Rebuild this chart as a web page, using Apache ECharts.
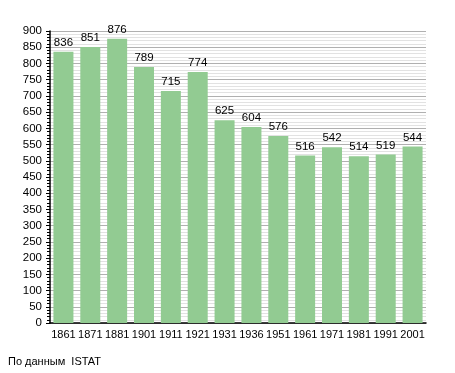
<!DOCTYPE html>
<html><head><meta charset="utf-8">
<script src="https://cdn.jsdelivr.net/npm/echarts@6/dist/echarts.min.js"></script>
<style>html,body{margin:0;padding:0;background:#fff}#c{width:455px;height:373px}</style>
</head><body><div id="c"></div>
<script>
const years = ['1861','1871','1881','1901','1911','1921','1931','1936','1951','1961','1971','1981','1991','2001'];
const population = [836,851,876,789,715,774,625,604,576,516,542,514,519,544];
const yTicks = {min:0, max:900, interval:50};
const sourceText = 'По данным  ISTAT';

const chart = echarts.init(document.getElementById('c'), null, {renderer:'canvas'});
const font = 'Liberation Sans, Arial, sans-serif';
chart.setOption({
  animation:false,
  backgroundColor:'#fff',
  graphic:[{type:'text', left:8, top:356, style:{text:sourceText, font:'11px '+font, fill:'#000'}}],
  grid:{left:50, right:29, top:31, bottom:50},
  xAxis:{type:'category', data:years,
    axisLine:{lineStyle:{color:'#000', width:1.5}},
    axisTick:{show:false},
    axisLabel:{color:'#000', fontSize:11, fontFamily:font, margin:6, interval:0}},
  yAxis:{type:'value', min:yTicks.min, max:yTicks.max, interval:yTicks.interval,
    axisLine:{show:true, lineStyle:{color:'#000', width:1.5}},
    axisTick:{show:true, length:4, lineStyle:{color:'#000'}},
    minorTick:{show:true, splitNumber:5, length:3, lineStyle:{color:'#000'}},
    splitLine:{show:true, lineStyle:{color:'#b0b0b0', width:1}},
    minorSplitLine:{show:true, lineStyle:{color:'#e2e2e2', width:1}},
    axisLabel:{color:'#000', fontSize:11.5, fontFamily:font, margin:8}},
  series:[{type:'bar', data:population, barWidth:20,
    itemStyle:{color:'#92cb92'},
    label:{show:true, position:'top', color:'#000', fontSize:11.5, fontFamily:font, distance:3}}]
});
</script></body></html>
